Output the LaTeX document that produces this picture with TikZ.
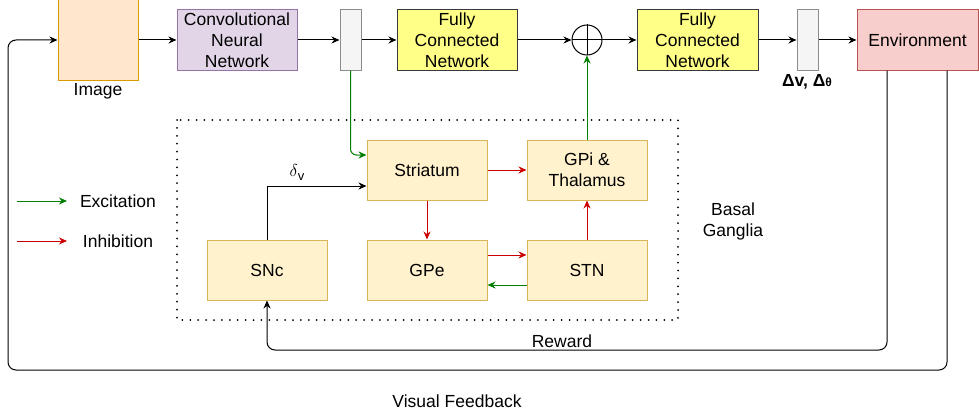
\documentclass[tikz,border=0pt]{standalone}
\usepackage{fontspec}
\setmainfont{Liberation Sans}
\usetikzlibrary{arrows.meta}
\definecolor{imgF}{HTML}{FFE6CC}\definecolor{imgD}{HTML}{D79B00}
\definecolor{cnnF}{HTML}{E1D5E7}\definecolor{cnnD}{HTML}{9673A6}
\definecolor{vecF}{HTML}{F5F5F5}\definecolor{vecD}{HTML}{8C8C8C}
\definecolor{fcF}{HTML}{FFFF88}\definecolor{fcD}{HTML}{36393D}
\definecolor{envF}{HTML}{F8CECC}\definecolor{envD}{HTML}{B85450}
\definecolor{bgF}{HTML}{FFF2CC}\definecolor{bgD}{HTML}{D6B656}
\definecolor{exG}{HTML}{007F00}\definecolor{inR}{HTML}{CC0000}
\begin{document}
\begin{tikzpicture}[x=1pt,y=-1pt,
  font=\fontsize{17.5}{21}\selectfont,
  box/.style={draw, line width=1pt, align=center, inner sep=0pt, minimum width=120pt, minimum height=60pt},
  bgbox/.style={box, fill=bgF, draw=bgD},
  vecbox/.style={box, fill=vecF, draw=vecD, minimum width=21pt},
  conn/.style={line width=1pt, -{Stealth[length=8pt,width=7pt]}},
  exc/.style={conn, draw=exG, -{Stealth[length=8pt,width=7pt,fill=exG]}},
  inh/.style={conn, draw=inR, -{Stealth[length=8pt,width=7pt,fill=inR]}},
  lbl/.style={inner sep=0pt, align=center}]
\useasboundingbox (0,0) rectangle (979,412);
% top row
\node[box, fill=imgF, draw=imgD, minimum width=80pt, minimum height=80pt] (img) at (98,40) {};
\node[lbl] (imglbl) at (98,91) {Image};
\node[box, fill=cnnF, draw=cnnD] (cnn) at (237,40) {Convolutional\\Neural\\Network};
\node[vecbox] (v1) at (350.5,40) {};
\node[box, fill=fcF, draw=fcD] (fc1) at (457,40) {Fully\\Connected\\Network};
\node[draw, circle, line width=1pt, minimum size=30pt, inner sep=0pt] (sum) at (587,40) {};
\draw[line width=1pt] (sum.north) -- (sum.south) (sum.west) -- (sum.east);
\node[box, fill=fcF, draw=fcD, minimum width=121pt] (fc2) at (697.5,40) {Fully\\Connected\\Network};
\node[vecbox] (v2) at (807.5,40) {};
\node[lbl] (dlbl) at (807,82) {\bfseries Δv, Δ{\fontsize{12}{12}\selectfont θ}};
\node[box, fill=envF, draw=envD, minimum width=121pt] (env) at (917.5,40) {Environment};
\draw[conn] (img) -- (cnn);
\draw[conn] (cnn) -- (v1);
\draw[conn] (v1) -- (fc1);
\draw[conn] (fc1) -- (sum);
\draw[conn] (sum) -- (fc2);
\draw[conn] (fc2) -- (v2);
\draw[conn] (v2) -- (env);
% basal ganglia
\draw[line width=2pt, dash pattern=on 0pt off 7.9pt, line cap=round] (177,120) rectangle (678,320);
\node[lbl] (bglbl) at (733,221) {Basal\\Ganglia};
\node[bgbox] (str) at (427,170) {Striatum};
\node[bgbox] (gpi) at (587,170) {GPi \&\\Thalamus};
\node[bgbox] (snc) at (267,270) {SNc};
\node[bgbox] (gpe) at (427,270) {GPe};
\node[bgbox] (stn) at (587,270) {STN};
\draw[exc, rounded corners=6pt] (v1.south) |- ([yshift=15pt]str.west);
\draw[conn] (snc.north) |- ([yshift=-16pt]str.west);
\node[lbl] (dv) at (297,172) {$\delta$\raisebox{-4pt}{\fontsize{13}{13}\selectfont v}};
\draw[inh] (str) -- (gpi);
\draw[inh] (str) -- (gpe);
\draw[inh] ([yshift=15pt]gpe.east) -- ([yshift=15pt]stn.west);
\draw[exc] ([yshift=-15pt]stn.west) -- ([yshift=-15pt]gpe.east);
\draw[inh] (stn) -- (gpi);
\draw[exc] (gpi) -- (sum);
% feedback loops
\coordinate (rw) at (600,350);
\coordinate (vf) at (8,370);
\draw[conn, rounded corners=8pt] ([xshift=-30.5pt]env.south) |- (rw) -| (snc.south);
\node[lbl] (rwlbl) at (562,341) {Reward};
\draw[conn, rounded corners=8pt] ([xshift=29.5pt]env.south) |- (vf) |- (img.west);
\node[lbl] (vflbl) at (457,401) {Visual Feedback};
% legend
\coordinate (ea) at (17,201); \coordinate (eb) at (67,201);
\coordinate (ia) at (17,241); \coordinate (ib) at (67,241);
\draw[exc] (ea) -- (eb);
\draw[inh] (ia) -- (ib);
\node[lbl] (exlbl) at (118,201) {Excitation};
\node[lbl] (inlbl) at (118,241) {Inhibition};
\end{tikzpicture}
\end{document}
